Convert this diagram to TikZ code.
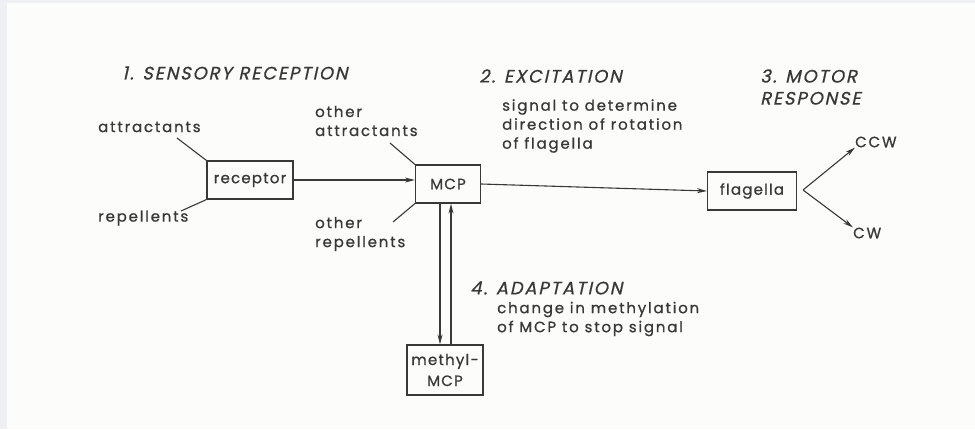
\documentclass[tikz,border=0pt]{standalone}
\usepackage{fontspec}
\setmainfont{Poppins}[LetterSpace=12,FakeBold=0.8]
\newfontfamily\titlefont{Poppins}[FakeSlant=0.22,LetterSpace=10,FakeBold=0.6]
\newfontfamily\boxfont{Poppins}[LetterSpace=8,FakeBold=0.8]
\usetikzlibrary{arrows.meta}
\definecolor{ink}{HTML}{383838}
\definecolor{paper}{HTML}{FCFCFB}
\definecolor{rim}{HTML}{EEF0F3}
\tikzset{
  txt/.style={font=\fontsize{15}{19}\selectfont, text=ink, inner sep=0pt, anchor=west, align=left},
  ttl/.style={font=\titlefont\fontsize{18}{22}\selectfont, text=ink, inner sep=0pt, anchor=west, align=left},
  box/.style={draw=ink, line width=1.1pt, font=\boxfont\fontsize{15}{21}\selectfont, text=ink, inner sep=0pt, align=center},
  ln/.style={draw=ink, line width=1.1pt},
  arr/.style={ln, -{Stealth[length=10pt,width=5pt]}}
}
\begin{document}
\begin{tikzpicture}[x=1pt,y=-1pt]
\useasboundingbox (0,0) rectangle (975,429);
\fill[rim] (0,0) rectangle (975,429);
\fill[paper] (7,3) rectangle (975,429);

% titles
\node[ttl] (t1) at (122,73) {1. SENSORY RECEPTION};
\node[ttl] (t2) at (479,76) {2. EXCITATION};
\node[ttl] (t3) at (760,87) {3. MOTOR\\RESPONSE};
\node[ttl] (t4) at (470,288) {4. ADAPTATION};

% descriptions
\node[txt] (d2) at (502,126) {signal to determine\\direction of rotation\\of flagella};
\node[txt] (d4) at (497,319) {change in methylation\\of MCP to stop signal};

% inputs
\node[txt] (att) at (98,127) {attractants};
\node[txt] (rep) at (98,218) {repellents};
\node[txt] (oatt) at (315,121) {other\\attractants};
\node[txt] (orep) at (315,234) {other\\repellents};

% boxes
\node[box, minimum width=86pt, minimum height=38pt] (rec) at (250,180) {receptor};
\node[box, minimum width=65pt, minimum height=38pt] (mcp) at (448,184) {MCP};
\node[box, minimum width=89pt, minimum height=38pt] (fla) at (752,191) {flagella};
\node[box, minimum width=76pt, minimum height=50pt] (meth) at (445,370) {methyl-\\MCP};

% outputs
\node[txt] (ccw) at (855,142) {CCW};
\node[txt] (cw) at (853,233) {CW};

% input lines
\coordinate (a1) at (177,138);
\coordinate (r1) at (181,211);
\coordinate (a2) at (390,143);
\coordinate (r2) at (393,222);
\draw[ln] (a1) -- (rec.north west);
\draw[ln] (r1) -- (rec.south west);
\draw[ln] (a2) -- (mcp.north west);
\draw[ln] (r2) -- (mcp.south west);

% main arrows
\draw[arr] (rec.east) -- (rec.east -| mcp.west);
\draw[arr] (mcp.east) -- (fla.west);

% flagella fork
\coordinate (fk) at (803,190);
\draw[arr] (fk) -- (ccw.south west);
\draw[arr] (fk) -- (cw.north west);

% adaptation loop
\coordinate (v1) at (440,0);
\coordinate (v2) at (451,0);
\draw[arr] (mcp.south -| v1) -- (meth.north -| v1);
\draw[arr] (meth.north -| v2) -- (mcp.south -| v2);
\end{tikzpicture}
\end{document}
